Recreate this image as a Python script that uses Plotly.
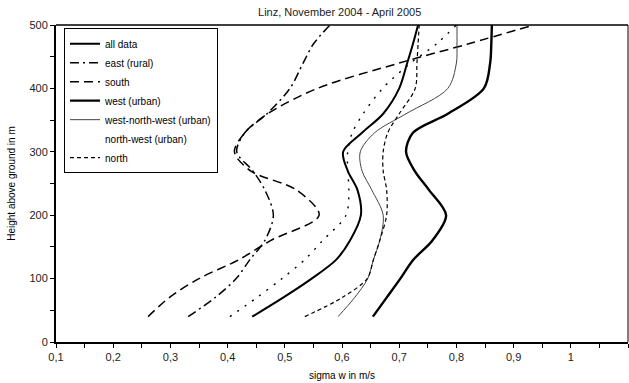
import plotly.graph_objects as go

# Heights above ground (m) at which sigma w profiles are sampled
heights = [40, 70, 100, 130, 160, 200, 240, 270, 300, 330, 360, 400, 440, 470, 500]

# sigma w (m/s) per wind sector
all_data = [0.443, 0.497, 0.547, 0.59, 0.614, 0.633, 0.627, 0.61, 0.602, 0.635, 0.672, 0.70, 0.714, 0.724, 0.733]
east_rural = [0.331, 0.378, 0.415, 0.439, 0.465, 0.48, 0.465, 0.444, 0.416, 0.43, 0.469, 0.509, 0.532, 0.55, 0.579]
south = [0.261, 0.298, 0.35, 0.42, 0.475, 0.56, 0.52, 0.44, 0.412, 0.43, 0.47, 0.557, 0.70, 0.82, 0.935]
west_urban = [0.654, 0.678, 0.702, 0.725, 0.758, 0.782, 0.752, 0.727, 0.712, 0.724, 0.785, 0.848, 0.859, 0.861, 0.862]
wnw_urban = [0.593, 0.622, 0.645, 0.655, 0.666, 0.672, 0.652, 0.635, 0.632, 0.657, 0.712, 0.785, 0.80, 0.801, 0.801]
nw_urban = [0.404, 0.451, 0.495, 0.535, 0.566, 0.607, 0.612, 0.61, 0.61, 0.618, 0.637, 0.671, 0.72, 0.765, 0.80]
north = [0.535, 0.60, 0.644, 0.655, 0.666, 0.678, 0.678, 0.672, 0.672, 0.68, 0.70, 0.728, 0.731, 0.733, 0.735]

x_tickvals = [0.1, 0.2, 0.3, 0.4, 0.5, 0.6, 0.7, 0.8, 0.9, 1.0, 1.1]
x_ticktext = ["0,1", "0,2", "0,3", "0,4", "0,5", "0,6", "0,7", "0,8", "0,9", "1", "1"]
y_tickvals = [0, 100, 200, 300, 400, 500]

FONT = "Arial, Liberation Sans, sans-serif"

series = [
    ("all data", all_data, dict(color="black", width=2.0, dash="solid"), True),
    ("east (rural)", east_rural, dict(color="black", width=1.5, dash="9px,4px,2px,4px"), True),
    ("south", south, dict(color="black", width=1.5, dash="9px,5px"), True),
    ("west (urban)", west_urban, dict(color="black", width=2.4, dash="solid"), True),
    ("west-north-west (urban)", wnw_urban, dict(color="#444444", width=1.0, dash="solid"), True),
    ("north-west (urban)", nw_urban, dict(color="black", width=1.4, dash="2px,7px"), False),
    ("north", north, dict(color="black", width=1.2, dash="4px,3px"), True),
]

fig = go.Figure()
for name, vals, line, show in series:
    fig.add_trace(go.Scatter(
        x=vals, y=heights, mode="lines", name=name,
        line=dict(shape="spline", smoothing=0.9, **line),
        showlegend=show, legendrank=len(fig.data) + 1,
    ))
    if not show:
        # legend entry without a visible line sample
        fig.add_trace(go.Scatter(
            x=[None], y=[None], mode="lines", name=name,
            line=dict(color="rgba(0,0,0,0)", width=1),
            legendrank=len(fig.data),
        ))

fig.update_layout(
    width=629, height=383,
    margin=dict(l=56, r=1, t=25, b=41),
    paper_bgcolor="white", plot_bgcolor="white",
    font=dict(family=FONT, size=11, color="black"),
    title=dict(text="Linz, November 2004 - April 2005", x=0.54, xanchor="center",
               y=0.968, yanchor="middle", font=dict(family=FONT, size=11, color="#222")),
    showlegend=True,
    legend=dict(x=0.014, y=0.99, xanchor="left", yanchor="top",
                bgcolor="white", bordercolor="black", borderwidth=1,
                font=dict(family=FONT, size=10, color="black"),
                tracegroupgap=0, itemwidth=30, traceorder="normal"),
)

fig.update_xaxes(
    range=[0.1, 1.1], tickvals=x_tickvals, ticktext=x_ticktext,
    ticks="outside", ticklen=4, tickwidth=1, tickcolor="black",
    minor=dict(dtick=0.05, tick0=0.1, ticks="outside", ticklen=4, tickcolor="black", showgrid=False),
    showline=True, linewidth=2, linecolor="black", showgrid=False, zeroline=False,
    title=dict(text="sigma w in m/s", font=dict(family=FONT, size=10), standoff=10),
    tickfont=dict(family=FONT, size=11, color="#222"),
)
fig.update_yaxes(
    range=[0, 500], tickvals=y_tickvals,
    ticks="outside", ticklen=4, tickwidth=1, tickcolor="black",
    minor=dict(dtick=50, tick0=0, ticks="outside", ticklen=4, tickcolor="black", showgrid=False),
    showline=True, linewidth=2, linecolor="black", showgrid=False, zeroline=False,
    title=dict(text="Height above ground in m", font=dict(family=FONT, size=10), standoff=12),
    tickfont=dict(family=FONT, size=11, color="#222"),
)

# top and right frame of the plotting area
fig.add_shape(type="line", xref="paper", yref="paper", x0=0, x1=1, y0=1, y1=1,
              line=dict(color="black", width=1.5))
fig.add_shape(type="line", xref="paper", yref="paper", x0=1, x1=1, y0=0, y1=1,
              line=dict(color="black", width=1))

fig.write_html("out.html")
